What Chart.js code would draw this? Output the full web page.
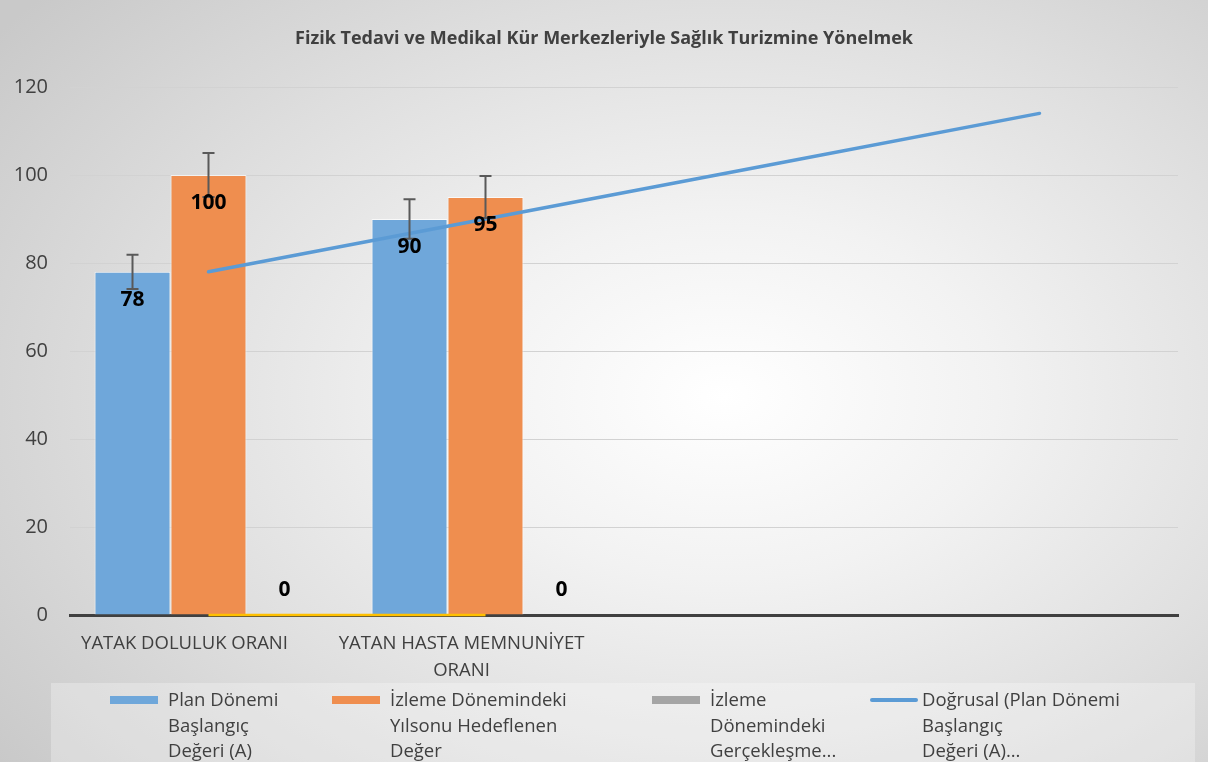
<!DOCTYPE html>
<html>
<head>
<meta charset="utf-8">
<script src="https://cdn.jsdelivr.net/npm/chart.js@4.4.0/dist/chart.umd.min.js"></script>
<style>
    html, body { margin: 0; padding: 0; }
    #wrap {
        position: relative;
        width: 1208px;
        height: 762px;
        overflow: hidden;
        background: radial-gradient(ellipse 75% 80% at 60% 52%, #ffffff 0%, #f2f2f2 30%, #dedede 65%, #c9c9c9 100%);
    }
    #chart { position: absolute; left: 0; top: 0; }
    #title {
        position: absolute;
        left: 0;
        top: 24px;
        width: 1208px;
        text-align: center;
        font-family: "Open Sans", sans-serif;
        font-weight: bold;
        font-size: 18px;
        line-height: 26px;
        color: #404040;
    }
    #legendBand {
        position: absolute;
        left: 51px;
        top: 683px;
        width: 1144px;
        height: 79px;
        background: rgba(255, 255, 255, 0.28);
    }
    .legendItem {
        position: absolute;
        top: 686px;
        font-family: "Open Sans", sans-serif;
        font-size: 18.5px;
        line-height: 25.5px;
        color: #404040;
        white-space: nowrap;
    }
    .swatch { position: absolute; top: 10px; }
</style>
</head>
<body>
<div id="wrap">
    <canvas id="chart" width="1208" height="762"></canvas>
    <div id="title">Fizik Tedavi ve Medikal Kür Merkezleriyle Sağlık Turizmine Yönelmek</div>
    <div id="legendBand"></div>
    <div id="legend"></div>
</div>
<script>
const categories = ['YATAK DOLULUK ORANI', ['YATAN HASTA MEMNUNİYET', 'ORANI'], '', ''];
const planValues = [78, 90, null, null];
const targetValues = [100, 95, null, null];
const actualValues = [0, 0, null, null];
const trendValues = [78, 90, 102, 114];
const baselineValues = [0, 0, null, null];
const yTicks = [0, 20, 40, 60, 80, 100, 120];
const errorPercent = 5;

const legendNames = [
    ['Plan Dönemi', 'Başlangıç', 'Değeri (A)'],
    ['İzleme Dönemindeki', 'Yılsonu Hedeflenen', 'Değer'],
    ['İzleme', 'Dönemindeki', 'Gerçekleşme...'],
    ['Doğrusal (Plan Dönemi', 'Başlangıç', 'Değeri (A)...']
];

const BLUE = '#6fa7da';
const ORANGE = '#ef8e4f';
const GRAY = '#a5a5a5';
const TREND = '#5b9bd5';
const GOLD = '#ffc000';

// error bars + bold value labels drawn after the datasets
const barExtras = {
    id: 'barExtras',
    afterDatasetsDraw(chart) {
        const ctx = chart.ctx;
        ctx.save();
        [0, 1, 2].forEach(di => {
            const meta = chart.getDatasetMeta(di);
            const values = chart.data.datasets[di].data;
            meta.data.forEach((bar, i) => {
                const v = values[i];
                if (v === null || v === undefined) return;
                if (di < 2) {
                    const yScale = chart.scales.y;
                    const top = yScale.getPixelForValue(v * (1 + errorPercent / 100));
                    const bottom = yScale.getPixelForValue(v * (1 - errorPercent / 100));
                    ctx.strokeStyle = '#595959';
                    ctx.lineWidth = 2;
                    ctx.beginPath();
                    ctx.moveTo(bar.x, top);
                    ctx.lineTo(bar.x, bottom);
                    ctx.moveTo(bar.x - 6, top);
                    ctx.lineTo(bar.x + 6, top);
                    ctx.moveTo(bar.x - 6, bottom);
                    ctx.lineTo(bar.x + 6, bottom);
                    ctx.stroke();
                }
                ctx.fillStyle = '#000000';
                ctx.font = 'bold 21px "Open Sans", sans-serif';
                ctx.textAlign = 'center';
                ctx.textBaseline = 'middle';
                const y = di < 2 ? bar.y + 28 : bar.y - 25;
                ctx.fillText(String(v), bar.x, y);
            });
        });
        ctx.restore();
    }
};

new Chart(document.getElementById('chart'), {
    data: {
        labels: categories,
        datasets: [
            {
                type: 'bar',
                label: 'Plan Dönemi Başlangıç Değeri (A)',
                data: planValues,
                backgroundColor: BLUE,
                borderColor: 'rgba(255,255,255,0.7)',
                borderWidth: 1,
                order: 2
            },
            {
                type: 'bar',
                label: 'İzleme Dönemindeki Yılsonu Hedeflenen Değer',
                data: targetValues,
                backgroundColor: ORANGE,
                borderColor: 'rgba(255,255,255,0.7)',
                borderWidth: 1,
                order: 2
            },
            {
                type: 'bar',
                label: 'İzleme Dönemindeki Gerçekleşme',
                data: actualValues,
                backgroundColor: GRAY,
                borderWidth: 0,
                order: 2
            },
            {
                type: 'line',
                label: 'Doğrusal (Plan Dönemi Başlangıç Değeri (A))',
                data: trendValues,
                borderColor: TREND,
                borderWidth: 3.5,
                borderCapStyle: 'round',
                pointRadius: 0,
                fill: false,
                order: 1
            },
            {
                type: 'line',
                label: 'baseline',
                data: baselineValues,
                borderColor: GOLD,
                borderWidth: 2.5,
                pointRadius: 0,
                fill: false,
                clip: false,
                order: 0
            }
        ]
    },
    options: {
        responsive: false,
        animation: false,
        layout: { padding: { left: 0, right: 30, top: 87, bottom: 0 } },
        datasets: {
            bar: { categoryPercentage: 0.823, barPercentage: 1.0 }
        },
        scales: {
            x: {
                grid: { display: false },
                border: { display: true, color: '#404040', width: 3 },
                ticks: {
                    color: '#404040',
                    font: { family: 'Open Sans', size: 18.5, lineHeight: 1.45 },
                    padding: 7,
                    labelOffset: -24,
                    maxRotation: 0,
                    autoSkip: false
                },
                afterFit(scale) { scale.height = 147; }
            },
            y: {
                min: 0,
                max: 120,
                afterBuildTicks(scale) { scale.ticks = yTicks.map(v => ({ value: v })); },
                grid: { color: '#d2d2d2', lineWidth: 1, drawTicks: false },
                border: { display: false },
                ticks: {
                    color: '#404040',
                    font: { family: 'Open Sans', size: 20 },
                    padding: 22
                },
                afterFit(scale) { scale.width = 70; }
            }
        },
        plugins: {
            legend: { display: false },
            tooltip: { enabled: false },
            title: { display: false }
        }
    },
    plugins: [barExtras]
});

// html legend with wrapped names
const legendLefts = [110, 332, 652, 870];
const legendColors = [BLUE, ORANGE, GRAY, TREND];
const legendEl = document.getElementById('legend');
legendNames.forEach((lines, i) => {
    const item = document.createElement('div');
    item.className = 'legendItem';
    item.style.left = legendLefts[i] + 'px';
    const sw = document.createElement('div');
    sw.className = 'swatch';
    sw.style.left = '0px';
    sw.style.width = '48px';
    if (i === 3) {
        sw.style.height = '4px';
        sw.style.top = '12px';
        sw.style.borderRadius = '2px';
    } else {
        sw.style.height = '8px';
    }
    sw.style.background = legendColors[i];
    item.appendChild(sw);
    const text = document.createElement('div');
    text.style.marginLeft = (i === 3 ? 52 : 58) + 'px';
    text.innerHTML = lines.join('<br>');
    item.appendChild(text);
    legendEl.appendChild(item);
});
</script>
</body>
</html>
